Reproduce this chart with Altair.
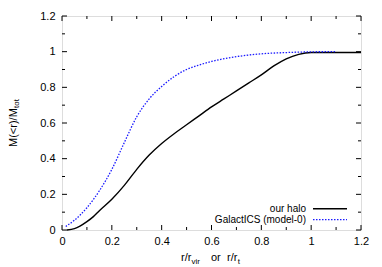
import altair as alt
import pandas as pd

# ---- data ----
halo_r = [0.02, 0.05, 0.072, 0.1, 0.126, 0.15, 0.2, 0.25, 0.3, 0.35, 0.4, 0.45, 0.5,
          0.55, 0.6, 0.65, 0.7, 0.75, 0.8, 0.85, 0.9, 0.95, 1.0, 1.05, 1.1, 1.2]
halo_m = [0.0, 0.008, 0.022, 0.047, 0.075, 0.108, 0.172, 0.25, 0.34, 0.42, 0.485, 0.54, 0.59,
          0.64, 0.69, 0.735, 0.78, 0.825, 0.87, 0.92, 0.96, 0.985, 0.995, 0.995, 0.995, 0.995]

gal_r = [0.015, 0.05, 0.1, 0.15, 0.2, 0.25, 0.3, 0.35, 0.4, 0.45, 0.5, 0.55, 0.6,
         0.7, 0.8, 0.9, 1.0, 1.1]
gal_m = [0.02, 0.055, 0.125, 0.22, 0.34, 0.49, 0.635, 0.735, 0.805, 0.86, 0.9, 0.925, 0.945,
         0.972, 0.988, 0.995, 0.999, 1.0]

x_major = [0, 0.2, 0.4, 0.6, 0.8, 1, 1.2]
x_minor = [0.1, 0.3, 0.5, 0.7, 0.9, 1.1]
y_major = [0, 0.2, 0.4, 0.6, 0.8, 1, 1.2]
y_minor = [0.1, 0.3, 0.5, 0.7, 0.9, 1.1]

series_names = ["our halo", "GalactICS (model-0)"]

W, H = 299, 214
FONT = "Liberation Sans"

xs = alt.Scale(domain=[0, 1.2], nice=False, zero=False)
ys = alt.Scale(domain=[0, 1.2], nice=False, zero=False)

halo_df = pd.DataFrame({"r": halo_r, "m": halo_m})
gal_df = pd.DataFrame({"r": gal_r, "m": gal_m})

x_axis = alt.Axis(values=x_major, format="~g", ticks=False, tickSize=0, domain=False,
                  grid=False, labelFontSize=11, labelFont=FONT, labelColor="black",
                  labelPadding=5, title=None, labelFlush=False, labelOverlap=False)
y_axis = alt.Axis(values=y_major, format="~g", ticks=False, tickSize=0, domain=False,
                  grid=False, labelFontSize=11, labelFont=FONT, labelColor="black",
                  labelPadding=7, title=None, labelFlush=False, labelOverlap=False)

halo_line = alt.Chart(halo_df).mark_line(color="black", strokeWidth=1.4,
                                         interpolate="monotone").encode(
    x=alt.X("r:Q", scale=xs, axis=x_axis),
    y=alt.Y("m:Q", scale=ys, axis=y_axis),
)
gal_line = alt.Chart(gal_df).mark_line(color="#1a1aff", strokeWidth=1.3,
                                       strokeDash=[1.5, 1.5],
                                       interpolate="monotone").encode(
    x=alt.X("r:Q", scale=xs, axis=x_axis),
    y=alt.Y("m:Q", scale=ys, axis=y_axis),
)

def xticks(vals, length):
    d = pd.DataFrame({"v": vals})
    bottom = alt.Chart(d).mark_rule(color="black", strokeWidth=1).encode(
        x=alt.X("v:Q", scale=xs, axis=x_axis), y=alt.value(H), y2=alt.value(H - length))
    top = alt.Chart(d).mark_rule(color="black", strokeWidth=1).encode(
        x=alt.X("v:Q", scale=xs, axis=x_axis), y=alt.value(0), y2=alt.value(length))
    return [bottom, top]

def yticks(vals, length):
    d = pd.DataFrame({"v": vals})
    left = alt.Chart(d).mark_rule(color="black", strokeWidth=1).encode(
        y=alt.Y("v:Q", scale=ys, axis=y_axis), x=alt.value(0), x2=alt.value(length))
    right = alt.Chart(d).mark_rule(color="black", strokeWidth=1).encode(
        y=alt.Y("v:Q", scale=ys, axis=y_axis), x=alt.value(W), x2=alt.value(W - length))
    return [left, right]

tick_layers = xticks(x_major, 5) + xticks(x_minor, 3) + yticks(y_major, 5) + yticks(y_minor, 3)

one = pd.DataFrame({"k": [0]})

def label(text, x, y, size=11, align="left", angle=0):
    kw = dict(text=text, fontSize=size, font=FONT, color="black", align=align,
              baseline="alphabetic")
    if angle:
        kw["angle"] = angle
    return alt.Chart(one).mark_text(**kw).encode(x=alt.value(x), y=alt.value(y))

# axis titles (plot origin is at page (62, 16))
titles = [
    label("r/r", 181 - 62, 260.5 - 16),
    label("vir", 191.5 - 62, 263.5 - 16, size=8),
    label("or", 211 - 62, 260.5 - 16),
    label("r/r", 227 - 62, 260.5 - 16),
    label("t", 237.7 - 62, 263.5 - 16, size=8),
    label("M(<r)/M", 16.5 - 62, 147 - 16, angle=270),
    label("tot", 19 - 62, 108 - 16, size=8, angle=270),
]

# legend
legend = [
    label(series_names[0], 306 - 62, 212.2 - 16, size=10, align="right"),
    label(series_names[1], 306 - 62, 222.5 - 16, size=10, align="right"),
    alt.Chart(one).mark_rule(color="black", strokeWidth=1.4).encode(
        x=alt.value(313 - 62), x2=alt.value(347 - 62), y=alt.value(208.7 - 16)),
    alt.Chart(one).mark_rule(color="#1a1aff", strokeWidth=1.3, strokeDash=[1.5, 1.5]).encode(
        x=alt.value(313 - 62), x2=alt.value(347 - 62), y=alt.value(219.7 - 16)),
]

chart = alt.layer(halo_line, gal_line, *tick_layers, *titles, *legend).properties(
    width=W, height=H,
    autosize=alt.AutoSizeParams(type="none"),
    padding={"left": 54, "top": 8, "right": 13, "bottom": 36},
).configure_view(stroke="black", strokeWidth=1).configure(background="white")

chart.save("out.html", embed_options={"renderer": "svg", "actions": False})
